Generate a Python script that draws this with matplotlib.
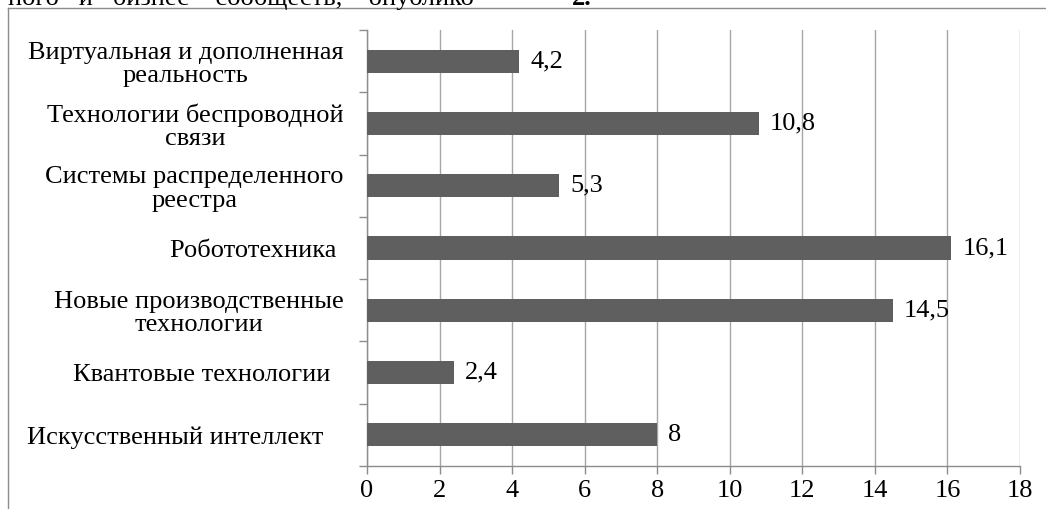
import matplotlib.pyplot as plt
import numpy as np

# categories listed bottom to top, as drawn
categories = [
    'Искусственный интеллект   ',
    'Квантовые технологии  ',
    'Новые производственные\nтехнологии',
    'Робототехника ',
    'Системы распределенного\nреестра',
    'Технологии беспроводной\nсвязи',
    'Виртуальная и дополненная\nреальность',
]
values = [8, 2.4, 14.5, 16.1, 5.3, 10.8, 4.2]
value_labels = ['8', '2,4', '14,5', '16,1', '5,3', '10,8', '4,2']
x_ticks = [0, 2, 4, 6, 8, 10, 12, 14, 16, 18]

plt.rcParams['font.family'] = ['Liberation Serif', 'DejaVu Serif']
plt.rcParams['font.size'] = 19

fig = plt.figure(figsize=(10.46, 5.09), dpi=100)
ax = fig.add_axes([367 / 1046, 1 - 466 / 509, (1020 - 367) / 1046, (466 - 30) / 509])

y = np.arange(len(categories))
ax.barh(y, values, height=0.37, color='#5f5f5f', zorder=3)

for yi, v, lab in zip(y, values, value_labels):
    ax.annotate(lab, (v, yi), xytext=(8, 0), textcoords='offset points',
                va='center', ha='left', fontsize=19)

ax.set_xlim(0, 18)
ax.set_ylim(-0.5, len(categories) - 0.5)
ax.set_xticks(x_ticks)
ax.set_xticklabels([str(t) for t in x_ticks])
ax.set_yticks(y)
ax.set_yticklabels(categories, multialignment='center', linespacing=1.1)
ax.set_yticks(np.arange(-0.5, len(categories), 1), minor=True)

ax.grid(True, axis='x', color='#a6a6a6', linewidth=1, zorder=0)
ax.tick_params(axis='y', which='major', length=0, pad=17)
ax.tick_params(axis='y', which='minor', length=6, color='#8c8c8c', width=1)
ax.tick_params(axis='x', length=6, color='#8c8c8c', width=1, pad=4)

for s in ['top', 'right']:
    ax.spines[s].set_visible(False)
for s in ['left', 'bottom']:
    ax.spines[s].set_color('#8c8c8c')
    ax.spines[s].set_linewidth(1)

# outer frame of the chart (left and top edges visible)
fig.add_artist(plt.Line2D([8 / 1046, 8 / 1046], [0, 1 - 8 / 509],
                          transform=fig.transFigure, color='#8c8c8c', lw=1))
fig.add_artist(plt.Line2D([8 / 1046, 1], [1 - 8 / 509, 1 - 8 / 509],
                          transform=fig.transFigure, color='#8c8c8c', lw=1))

# cut-off line of text above the chart
fig.text(8 / 1046, 1 - 5 / 509, 'ного   и   бизнес    сообществ,    опублико',
         fontsize=19, va='baseline', ha='left')
fig.text(572 / 1046, 1 - 5 / 509, '2.', fontsize=19, va='baseline', ha='left',
         fontweight='bold')

fig.savefig('out.png', dpi=100)
